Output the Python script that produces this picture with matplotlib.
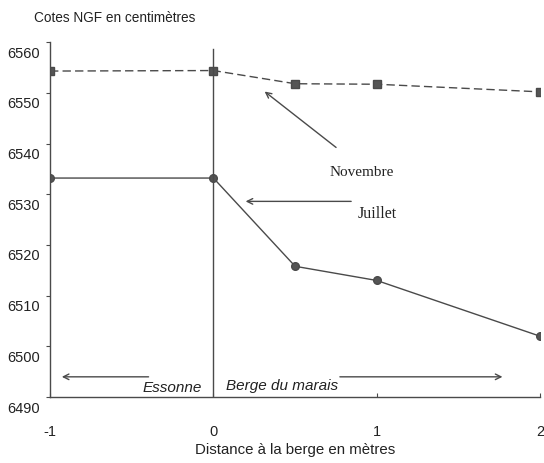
import numpy as np
import matplotlib.pyplot as plt
import matplotlib.transforms as mtransforms

# Profils des cotes (cm NGF) le long de la berge
distance = [-1, 0, 0.5, 1, 2]
novembre = [6554.3, 6554.4, 6551.8, 6551.7, 6550.2]
juillet = [6533.2, 6533.2, 6515.8, 6513.0, 6502.0]

xticks = [-1, 0, 1, 2]
yticks = [6490, 6500, 6510, 6520, 6530, 6540, 6550, 6560]

plt.rcParams['font.family'] = ['Liberation Sans', 'DejaVu Sans']
plt.rcParams['axes.unicode_minus'] = False
col = '#4a4a4a'
txt = '#222222'

fig = plt.figure(figsize=(5.44, 4.64), dpi=100)
ax = fig.add_axes([0.092, 0.142, 0.901, 0.765])

ax.plot(distance, novembre, color=col, lw=1.0, ls=(0, (6, 3)),
        marker='s', ms=5.5, mfc='#555555', mec=col)
ax.plot(distance, juillet, color=col, lw=1.0,
        marker='o', ms=5.5, mfc='#555555', mec=col)

# berge (x = 0)
ax.plot([0, 0], [6490, 6558.6], color=col, lw=1.0)

ax.set_xlim(-1, 2)
ax.set_ylim(6490, 6560)
ax.set_xticks(xticks)
ax.set_yticks(yticks)
ax.spines['top'].set_visible(False)
ax.spines['right'].set_visible(False)
for s in ['left', 'bottom']:
    ax.spines[s].set_color(col)
    ax.spines[s].set_linewidth(1.0)
ax.tick_params(axis='y', direction='out', length=3, color=col, labelsize=10.5, pad=4, labelcolor=txt)
ax.tick_params(axis='x', direction='in', length=3, color=col, labelsize=10.5, pad=19.5, labelcolor=txt)
ax.set_xlabel('Distance à la berge en mètres', fontsize=10.8, labelpad=3, color=txt)

# les étiquettes de l'axe y sont un peu décalées vers le bas dans l'original
shift = mtransforms.ScaledTranslation(0, -0.09, fig.dpi_scale_trans)
for lab in ax.get_yticklabels():
    lab.set_transform(lab.get_transform() + shift)

fig.text(0.063, 0.962, 'Cotes NGF en centimètres', fontsize=9.8, color=txt, va='center')

arrow = dict(arrowstyle='->', color=col, lw=1.0)
ax.annotate('', xy=(0.30, 6550.6), xytext=(0.764, 6538.9), arrowprops=arrow)
ax.text(0.91, 6534.4, 'Novembre', family='Liberation Serif', fontsize=11,
        ha='center', va='center', color=txt)
ax.annotate('', xy=(0.18, 6528.6), xytext=(0.86, 6528.6), arrowprops=arrow)
ax.text(1.0, 6526.4, 'Juillet', family='Liberation Serif', fontsize=11.5,
        ha='center', va='center', color=txt)

ax.annotate('', xy=(-0.945, 6494.0), xytext=(-0.38, 6494.0), arrowprops=arrow)
ax.annotate('', xy=(1.786, 6494.0), xytext=(0.757, 6494.0), arrowprops=arrow)
ax.text(-0.07, 6490.6, 'Essonne', style='italic', fontsize=11, ha='right', va='bottom', color=txt)
ax.text(0.08, 6491.0, 'Berge du marais', style='italic', fontsize=11, ha='left', va='bottom', color=txt)

fig.savefig('out.png', dpi=100, facecolor='white')
